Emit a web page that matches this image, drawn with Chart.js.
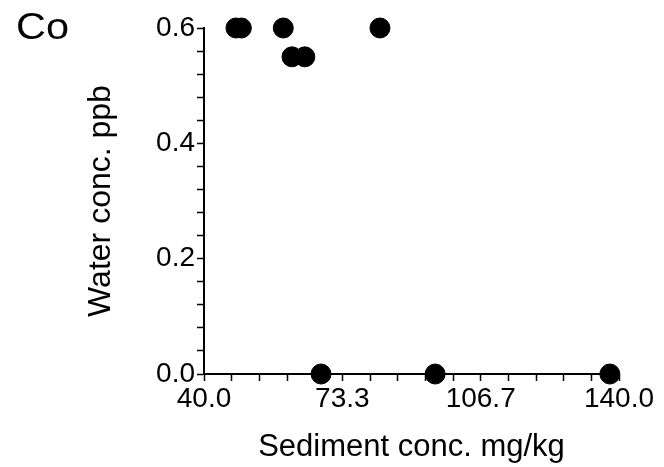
<!DOCTYPE html>
<html>
<head>
<meta charset="utf-8">
<script src="https://cdn.jsdelivr.net/npm/chart.js@4.4.0/dist/chart.umd.min.js"></script>
<style>
  html, body { margin: 0; padding: 0; background: #fff; }
  #wrap { position: relative; width: 664px; height: 467px; }
</style>
</head>
<body>
<div id="wrap"><canvas id="coChart"></canvas></div>
<script>
// Co: sediment vs water concentration
const panelLabel = 'Co';
const sedimentConc = [47.7, 49.0, 59.1, 61.2, 64.3, 82.4, 68.2, 95.7, 137.8];
const waterConc    = [0.6, 0.6, 0.6, 0.55, 0.55, 0.6, 0.0, 0.0, 0.0];
const xTickLabels  = ['40.0', '73.3', '106.7', '140.0'];
const yTickLabels  = ['0.0', '0.2', '0.4', '0.6'];

const FONT = "'Liberation Sans', Arial, sans-serif";

// build tick positions: 5 minor steps between labelled ones
buildTicks = (labels) => {
    let ticks = [];
    let nums = labels.map(Number);
    for (let i = 0; i < nums.length - 1; i++) {
        for (let j = 0; j < 5; j++) {
            ticks = [...ticks, { value: nums[0] + (nums[nums.length - 1] - nums[0]) * (i * 5 + j) / ((nums.length - 1) * 5) }];
        }
    }
    ticks = [...ticks, { value: nums[nums.length - 1] }];
    return ticks;
};

labelFor = (labels, value) => {
    let nums = labels.map(Number);
    let step = (nums[nums.length - 1] - nums[0]) / (nums.length - 1);
    let k = (value - nums[0]) / step;
    if (Math.abs(k - Math.round(k)) < 1e-6) return labels[Math.round(k)];
    return '';
};

const panelLabelPlugin = {
    id: 'panelLabel',
    afterDraw: (chart) => {
        let ctx = chart.ctx;
        ctx.save();
        ctx.fillStyle = '#000';
        ctx.font = '36px ' + FONT;
        ctx.textBaseline = 'alphabetic';
        ctx.translate(16, 39);
        ctx.scale(1.15, 1);
        ctx.fillText(panelLabel, 0, 0);
        ctx.restore();
    }
};

let points = sedimentConc.map((x, i) => ({ x: x, y: waterConc[i] }));

new Chart(document.getElementById('coChart').getContext('2d'), {
    type: 'scatter',
    data: {
        datasets: [{
            data: points,
            backgroundColor: '#000',
            borderColor: '#000',
            pointRadius: 10,
            pointHoverRadius: 10,
            clip: false
        }]
    },
    options: {
        responsive: true,
        maintainAspectRatio: false,
        animation: false,
        layout: { padding: { top: 28, right: 45, left: 0, bottom: 0 } },
        plugins: {
            legend: { display: false },
            tooltip: { enabled: false }
        },
        scales: {
            x: {
                type: 'linear',
                min: 40,
                max: 140,
                afterBuildTicks: (scale) => { scale.ticks = buildTicks(xTickLabels); },
                afterFit: (scale) => { scale.height = 93; },
                border: { color: '#000', width: 2 },
                grid: { drawOnChartArea: false, color: '#000', tickColor: '#000', tickLength: 7, tickWidth: 1.5 },
                ticks: {
                    color: '#000',
                    font: { family: FONT, size: 28 },
                    padding: 1,
                    maxRotation: 0,
                    autoSkip: false,
                    callback: (v) => labelFor(xTickLabels, v)
                },
                title: {
                    display: true,
                    text: 'Sediment conc. mg/kg',
                    color: '#000',
                    font: { family: FONT, size: 31 },
                    padding: { top: 0, bottom: 1 }
                }
            },
            y: {
                type: 'linear',
                min: 0,
                max: 0.6,
                afterBuildTicks: (scale) => { scale.ticks = buildTicks(yTickLabels); },
                afterFit: (scale) => { scale.width = 204; },
                border: { color: '#000', width: 2 },
                grid: { drawOnChartArea: false, color: '#000', tickColor: '#000', tickLength: 7, tickWidth: 1.5 },
                ticks: {
                    color: '#000',
                    font: { family: FONT, size: 28 },
                    padding: 2,
                    autoSkip: false,
                    callback: (v) => labelFor(yTickLabels, v)
                },
                title: {
                    display: true,
                    text: 'Water conc. ppb',
                    color: '#000',
                    font: { family: FONT, size: 32 },
                    padding: { top: 82, bottom: 0 }
                }
            }
        }
    },
    plugins: [panelLabelPlugin]
});
</script>
</body>
</html>
